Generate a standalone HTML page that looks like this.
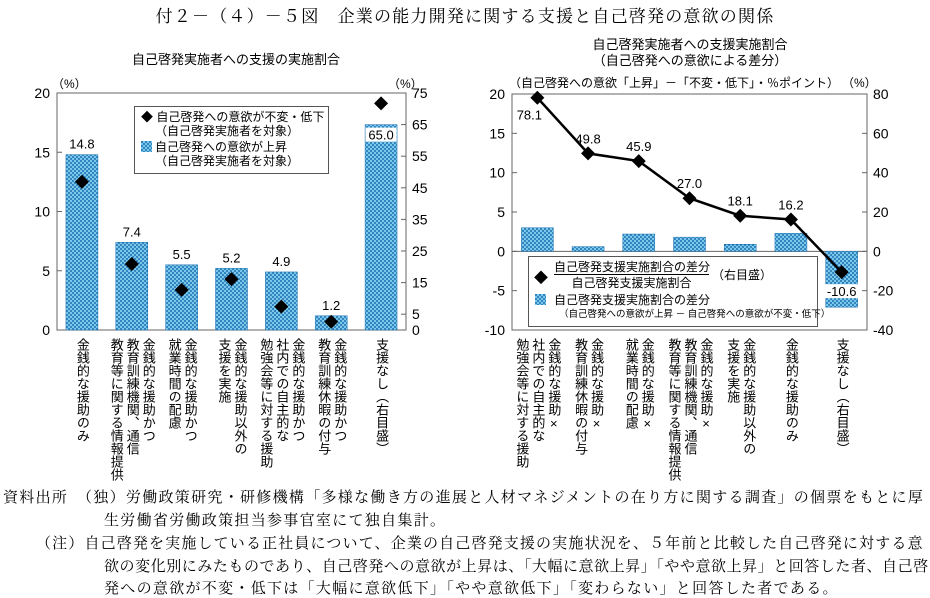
<!DOCTYPE html>
<html><head><meta charset="utf-8"><style>
body{margin:0;background:#fff;width:930px;height:595px;position:relative;overflow:hidden;font-family:"Liberation Sans","Noto Sans CJK JP",sans-serif;}
.t{position:absolute;white-space:nowrap;color:#000;}
.serif{font-family:"Liberation Serif","Noto Serif CJK JP",serif;}
.v{position:absolute;top:338px;writing-mode:vertical-rl;font-size:13px;line-height:16px;color:#000;white-space:nowrap;}
.fn{position:absolute;white-space:nowrap;font-size:15px;letter-spacing:1.3px;font-family:"Liberation Serif","Noto Serif CJK JP",serif;}
svg{position:absolute;left:0;top:0;}
</style></head><body>
<div class="t serif" style="left:0;width:930px;text-align:center;top:2px;font-size:17px;letter-spacing:1.2px;">付２－（４）－５図　企業の能力開発に関する支援と自己啓発の意欲の関係</div>
<div class="t" style="left:132px;top:49px;font-size:13px;">自己啓発実施者への支援の実施割合</div>
<div class="t" style="left:520px;width:340px;text-align:center;top:37px;font-size:13px;line-height:16px;">自己啓発実施者への支援実施割合<br>（自己啓発への意欲による差分）</div>
<div class="t" style="left:509px;top:74px;font-size:12px;">（自己啓発への意欲「上昇」－「不変・低下」・％ポイント）</div>
<div class="t" style="left:842px;top:74px;font-size:12px;">（%）</div>
<div class="t" style="left:52px;top:75px;font-size:12px;">（%）</div>
<div class="t" style="left:388px;top:75px;font-size:12px;">（%）</div>

<svg width="930" height="595">
<defs>
<pattern id="dots" width="4" height="4" patternUnits="userSpaceOnUse">
<rect width="4" height="4" fill="#7cc8ea"/>
<circle cx="1" cy="1" r="1" fill="#1a6fb0"/><circle cx="3" cy="3" r="1" fill="#1a6fb0"/>
</pattern>
</defs>
<g id="L"></g><g id="R"></g>
</svg>

<div id="lab"></div>

<div class="t" style="left:134px;top:106px;width:193px;height:66px;border:1px solid #555;background:#fff;font-size:12px;line-height:14px;">
<div style="position:absolute;left:6px;top:3px;">◆ 自己啓発への意欲が不変・低下</div>
<div style="position:absolute;left:20px;top:17px;">（自己啓発実施者を対象）</div>
<div style="position:absolute;left:6px;top:34px;width:11px;height:11px;"><svg width="11" height="11"><rect width="11" height="11" fill="url(#dots)"/></svg></div>
<div style="position:absolute;left:20px;top:33px;">自己啓発への意欲が上昇</div>
<div style="position:absolute;left:20px;top:47px;">（自己啓発実施者を対象）</div>
</div>

<div class="t" style="left:528px;top:256px;width:288px;height:69px;border:1px solid #555;background:#fff;font-size:12px;line-height:14px;">
<div style="position:absolute;left:5px;top:14px;font-size:14px;">◆</div>
<div style="position:absolute;left:25px;top:3px;width:155px;text-align:center;border-bottom:1px solid #000;">自己啓発支援実施割合の差分</div>
<div style="position:absolute;left:25px;top:19px;width:155px;text-align:center;">自己啓発支援実施割合</div>
<div style="position:absolute;left:183px;top:11px;">（右目盛）</div>
<div style="position:absolute;left:6px;top:37px;"><svg width="11" height="11"><rect width="11" height="11" fill="url(#dots)"/></svg></div>
<div style="position:absolute;left:25px;top:36px;">自己啓発支援実施割合の差分</div>
<div style="position:absolute;left:30px;top:51px;font-size:9.5px;">（自己啓発への意欲が上昇 － 自己啓発への意欲が不変・低下）</div>
</div>

<div>
<div class="fn" style="left:3px;top:486px;">資料出所　（独）労働政策研究・研修機構「多様な働き方の進展と人材マネジメントの在り方に関する調査」の個票をもとに厚</div>
<div class="fn" style="left:104px;top:509px;">生労働省労働政策担当参事官室にて独自集計。</div>
<div class="fn" style="left:36px;top:532px;letter-spacing:1.15px;">（注）自己啓発を実施している正社員について、企業の自己啓発支援の実施状況を、５年前と比較した自己啓発に対する意</div>
<div class="fn" style="left:104px;top:555px;letter-spacing:0.55px;">欲の変化別にみたものであり、自己啓発への意欲が上昇は、「大幅に意欲上昇」「やや意欲上昇」と回答した者、自己啓</div>
<div class="fn" style="left:104px;top:577px;">発への意欲が不変・低下は「大幅に意欲低下」「やや意欲低下」「変わらない」と回答した者である。</div>
</div>

<script>
// Left chart data
const leftCats = ["金銭的な援助のみ","金銭的な援助かつ|教育訓練機関、通信|教育等に関する情報提供","金銭的な援助かつ|就業時間の配慮","金銭的な援助以外の|支援を実施","金銭的な援助かつ|社内での自主的な|勉強会等に対する援助","金銭的な援助かつ|教育訓練休暇の付与","支援なし（右目盛）"];
const leftBars = [14.8, 7.4, 5.5, 5.2, 4.9, 1.2, 65.0];
const leftBarAxis = ["L","L","L","L","L","L","R"];
const leftDiamonds = [46.9, 20.9, 12.7, 16.1, 7.4, 2.6, 71.7];
const leftTicksL = [0,5,10,15,20];
const leftTicksR = [0,5,15,25,35,45,55,65,75];
// Right chart data
const rightCats = ["金銭的な援助×|社内での自主的な|勉強会等に対する援助","金銭的な援助×|教育訓練休暇の付与","金銭的な援助×|就業時間の配慮","金銭的な援助×|教育訓練機関、通信|教育等に関する情報提供","金銭的な援助以外の|支援を実施","金銭的な援助のみ","支援なし（右目盛）"];
const rightBars = [3.0, 0.6, 2.2, 1.8, 0.9, 2.3, -7.1];
const rightLine = [78.1, 49.8, 45.9, 27.0, 18.1, 16.2, -10.6];
const rightTicksL = [-10,-5,0,5,10,15,20];
const rightTicksR = [-40,-20,0,20,40,60,80];

const NS="http://www.w3.org/2000/svg";
function mk(parent,tag,attrs){const e=document.createElementNS(NS,tag);for(const k in attrs)e.setAttribute(k,attrs[k]);parent.appendChild(e);return e;}
function txt(parent,x,y,s,anchor,size,bg){
  if(bg){const w=s.length*7.8;mk(parent,'rect',{x:anchor==='middle'?x-w/2:x,y:y-12,width:w,height:14,fill:'#fff'});}
  const t=mk(parent,'text',{x:x,y:y,'text-anchor':anchor||'middle','font-size':size||13,'font-family':'Liberation Sans, sans-serif'});t.textContent=s;return t;}
function diamond(parent,cx,cy){return mk(parent,'polygon',{points:`${cx},${cy-7} ${cx+7},${cy} ${cx},${cy+7} ${cx-7},${cy}`,fill:'#000'});}
const lab=document.getElementById('lab');
function vlabels(cats,x0,step,prefix){
  cats.forEach((c,i)=>{
    const lines=c.split('|');
    const d=document.createElement('div');
    d.className='v';
    
    
    d.innerHTML=lines.join('<br>');
    const w=lines.length*16;
    d.style.left=(x0+step*(i+0.5)-w/2)+'px';
    lab.appendChild(d);
  });
}

// ----- Left chart -----
(function(){
  const g=document.getElementById('L');
  const x0=57,x1=406,yT=93,yB=330;
  const yL=v=>yB-(v/20)*(yB-yT);
  const yR=v=>yB-(v/75)*(yB-yT);
  const step=(x1-x0)/leftCats.length;
  mk(g,'rect',{x:x0,y:yT,width:x1-x0,height:yB-yT,fill:'none',stroke:'#666','stroke-width':1});
  leftTicksL.forEach(v=>{mk(g,'line',{x1:x0,x2:x0+5,y1:yL(v),y2:yL(v),stroke:'#666'});const t=txt(g,50,yL(v)+5,String(v),'end',14);});
  leftTicksR.forEach(v=>{mk(g,'line',{x1:x1-5,x2:x1,y1:yR(v),y2:yR(v),stroke:'#666'});const t=txt(g,412,yR(v)+5,String(v),'start',14);});
  leftBars.forEach((v,i)=>{
    const cx=x0+step*(i+0.5);const yf=leftBarAxis[i]==='R'?yR:yL;
    const r=mk(g,'rect',{x:cx-16,y:yf(v),width:32,height:yB-yf(v),fill:'url(#dots)',stroke:'#1a6fb0','stroke-width':0.5});
    
    
    if(leftBarAxis[i]==='R') txt(g,cx,yf(v)+15,v.toFixed(1),'middle',13,true);
    else txt(g,cx,yf(v)-6,v.toFixed(1),'middle',13);
  });
  leftDiamonds.forEach((v,i)=>{
    const cx=x0+step*(i+0.5);
    const d=diamond(g,cx,yR(v));
    
    
  });
  vlabels(leftCats,x0,step,'left');
})();

// ----- Right chart -----
(function(){
  const g=document.getElementById('R');
  const x0=512,x1=867,yT=94,yB=330;
  const yL=v=>yB-((v+10)/30)*(yB-yT);
  const yR=v=>yB-((v+40)/120)*(yB-yT);
  const step=(x1-x0)/rightCats.length;
  mk(g,'rect',{x:x0,y:yT,width:x1-x0,height:yB-yT,fill:'none',stroke:'#666','stroke-width':1});
  mk(g,'line',{x1:x0,x2:x1,y1:yL(0),y2:yL(0),stroke:'#666'});
  rightTicksL.forEach(v=>{mk(g,'line',{x1:x0,x2:x0+5,y1:yL(v),y2:yL(v),stroke:'#666'});const t=txt(g,505,yL(v)+5,String(v),'end',14);});
  rightTicksR.forEach(v=>{mk(g,'line',{x1:x1-5,x2:x1,y1:yR(v),y2:yR(v),stroke:'#666'});const t=txt(g,873,yR(v)+5,String(v),'start',14);});
  rightBars.forEach((v,i)=>{
    const cx=x0+step*(i+0.5);const y=Math.min(yL(v),yL(0));
    const r=mk(g,'rect',{x:cx-16,y:y,width:32,height:Math.abs(yL(v)-yL(0)),fill:'url(#dots)',stroke:'#1a6fb0','stroke-width':0.5});
    
    
  });
  const pts=rightLine.map((v,i)=>[x0+step*(i+0.5),yR(v)]);
  const pl=mk(g,'polyline',{points:pts.map(p=>p.join(',')).join(' '),fill:'none',stroke:'#000','stroke-width':2.5});
  
  
  pts.forEach((p,i)=>{
    const d=diamond(g,p[0],p[1]);
    
    
    const s=rightLine[i].toFixed(1);
    if(i===0) txt(g,p[0]-8,p[1]+22,s,'middle',13);
    else if(rightLine[i]<0) txt(g,p[0],p[1]+24,s,'middle',13,true);
    else txt(g,p[0],p[1]-10,s,'middle',13);
  });
  vlabels(rightCats,x0,step,'right');
})();
</script>
</body></html>
